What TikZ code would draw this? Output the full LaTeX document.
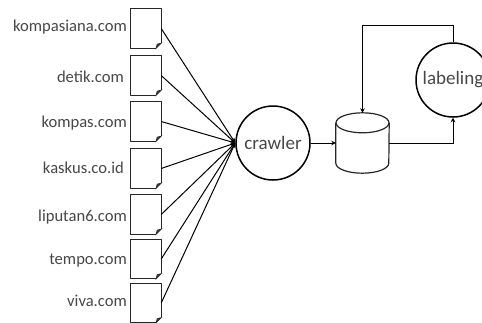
\documentclass[tikz,border=0pt]{standalone}
\usepackage{fontspec}
\setmainfont{Carlito}
\usetikzlibrary{arrows.meta}
\usetikzlibrary{positioning}

\tikzset{
  docbox/.style={minimum width=30pt, minimum height=39pt, inner sep=0pt,
    append after command={\pgfextra{
      \draw[line width=1.1pt, line join=round, draw=black!85]
        (\tikzlastnode.south east) ++(-5pt,0pt) -- (\tikzlastnode.south west)
        -- (\tikzlastnode.north west) -- (\tikzlastnode.north east)
        -- ++(0pt,-34pt);
      \draw[line width=0.8pt, fill=black!70, draw=black!85]
        (\tikzlastnode.south east) ++(0pt,5pt) -- ++(-4pt,-1pt) -- ++(-1pt,-4pt) -- cycle;
    }}},
  storenode/.style={minimum width=53pt, minimum height=60pt, inner sep=0pt,
    append after command={\pgfextra{
      \draw[line width=1.2pt, draw=black!85]
        ([yshift=-10pt]\tikzlastnode.north) ellipse [x radius=26.5pt, y radius=10pt];
      \draw[line width=1.2pt, draw=black!85]
        ([yshift=-10pt]\tikzlastnode.north west) -- ([yshift=10pt]\tikzlastnode.south west)
        arc [start angle=180, end angle=360, x radius=26.5pt, y radius=10pt]
        -- ([yshift=-10pt]\tikzlastnode.north east);
    }}},
  sitelabel/.style={text=darktext, font=\fontsize{16.6pt}{18pt}\selectfont, inner sep=0pt, anchor=east},
  procnode/.style={circle, draw, line width=1.5pt, minimum size=74pt, inner sep=0pt,
    text=darktext, font=\fontsize{19pt}{21pt}\selectfont},
  link/.style={draw, line width=1pt, -{Stealth[length=4.5pt, width=4.5pt]}}
}
\colorlet{darktext}{black!72}

\begin{document}
\begin{tikzpicture}[x=1pt, y=-1pt]

    \useasboundingbox (0,0) rectangle (482,322);

    \node (Crawler) [procnode] at (273,143) {crawler};
    \node (Labeling) [procnode] at (453,80) {labeling};
    \node (Store) [storenode] at (362.5,143) {};
    \coordinate (Corner) at (453,25);

    \node (Doc1) [docbox] at (146,28.5) {};
    \node (Doc2) [docbox] at (146,75.5) {};
    \node (Doc3) [docbox] at (146,121.5) {};
    \node (Doc4) [docbox] at (146,168.5) {};
    \node (Doc5) [docbox] at (146,214.5) {};
    \node (Doc6) [docbox] at (146,259) {};
    \node (Doc7) [docbox] at (146,303) {};

    \node (Site1) [sitelabel] at (127,27.5) {kompasiana.com};
    \node (Site2) [sitelabel] at (124,77) {detik.com};
    \node (Site3) [sitelabel] at (127,123) {kompas.com};
    \node (Site4) [sitelabel] at (124,167.5) {kaskus.co.id};
    \node (Site5) [sitelabel] at (127,217) {liputan6.com};
    \node (Site6) [sitelabel] at (127,261) {tempo.com};
    \node (Site7) [sitelabel] at (127,301) {viva.com};

    \draw[link] (Doc1.east) -- (Crawler.west);
    \draw[link] (Doc2.east) -- (Crawler.west);
    \draw[link] (Doc3.east) -- (Crawler.west);
    \draw[link] (Doc4.east) -- (Crawler.west);
    \draw[link] (Doc5.east) -- (Crawler.west);
    \draw[link] (Doc6.east) -- (Crawler.west);
    \draw[link] (Doc7.east) -- (Crawler.west);

    \draw[link] (Crawler.east) -- (Store.west);
    \draw[link] (Store.east) -| (Labeling.south);
    \draw[link] (Labeling.north) |- (Corner) -| (Store.north);

\end{tikzpicture}
\end{document}
